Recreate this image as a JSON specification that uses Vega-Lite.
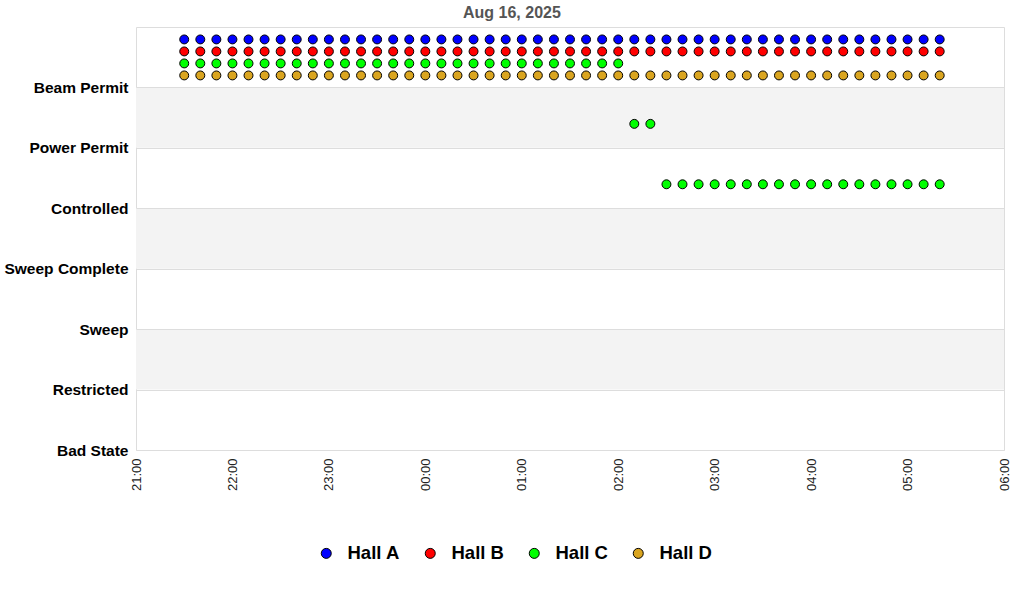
{
  "$schema": "https://vega.github.io/schema/vega-lite/v6.json",
  "autosize": "none",
  "width": 868,
  "height": 423,
  "padding": {"left": 136, "top": 27, "right": 20, "bottom": 150},
  "background": "white",
  "config": {
    "font": "Liberation Sans",
    "view": {"stroke": "#dddddd", "strokeWidth": 1}
  },
  "title": {
    "text": "Aug 16, 2025",
    "font": "Liberation Sans",
    "fontSize": 16,
    "fontWeight": "bold",
    "color": "#555555",
    "anchor": "start",
    "frame": "group",
    "dx": 327,
    "offset": 6
  },
  "datasets": {
    "bands": [
      {"lo": 1, "hi": 2},
      {"lo": 3, "hi": 4},
      {"lo": 5, "hi": 6}
    ],
    "levels": [
      {"state": "Bad State", "level": 0},
      {"state": "Restricted", "level": 1},
      {"state": "Sweep", "level": 2},
      {"state": "Sweep Complete", "level": 3},
      {"state": "Controlled", "level": 4},
      {"state": "Power Permit", "level": 5},
      {"state": "Beam Permit", "level": 6}
    ],
    "status": [
      {"t": "2025-08-16T21:30Z", "Hall A": "Beam Permit", "Hall B": "Beam Permit", "Hall C": "Beam Permit", "Hall D": "Beam Permit"},
      {"t": "2025-08-16T21:40Z", "Hall A": "Beam Permit", "Hall B": "Beam Permit", "Hall C": "Beam Permit", "Hall D": "Beam Permit"},
      {"t": "2025-08-16T21:50Z", "Hall A": "Beam Permit", "Hall B": "Beam Permit", "Hall C": "Beam Permit", "Hall D": "Beam Permit"},
      {"t": "2025-08-16T22:00Z", "Hall A": "Beam Permit", "Hall B": "Beam Permit", "Hall C": "Beam Permit", "Hall D": "Beam Permit"},
      {"t": "2025-08-16T22:10Z", "Hall A": "Beam Permit", "Hall B": "Beam Permit", "Hall C": "Beam Permit", "Hall D": "Beam Permit"},
      {"t": "2025-08-16T22:20Z", "Hall A": "Beam Permit", "Hall B": "Beam Permit", "Hall C": "Beam Permit", "Hall D": "Beam Permit"},
      {"t": "2025-08-16T22:30Z", "Hall A": "Beam Permit", "Hall B": "Beam Permit", "Hall C": "Beam Permit", "Hall D": "Beam Permit"},
      {"t": "2025-08-16T22:40Z", "Hall A": "Beam Permit", "Hall B": "Beam Permit", "Hall C": "Beam Permit", "Hall D": "Beam Permit"},
      {"t": "2025-08-16T22:50Z", "Hall A": "Beam Permit", "Hall B": "Beam Permit", "Hall C": "Beam Permit", "Hall D": "Beam Permit"},
      {"t": "2025-08-16T23:00Z", "Hall A": "Beam Permit", "Hall B": "Beam Permit", "Hall C": "Beam Permit", "Hall D": "Beam Permit"},
      {"t": "2025-08-16T23:10Z", "Hall A": "Beam Permit", "Hall B": "Beam Permit", "Hall C": "Beam Permit", "Hall D": "Beam Permit"},
      {"t": "2025-08-16T23:20Z", "Hall A": "Beam Permit", "Hall B": "Beam Permit", "Hall C": "Beam Permit", "Hall D": "Beam Permit"},
      {"t": "2025-08-16T23:30Z", "Hall A": "Beam Permit", "Hall B": "Beam Permit", "Hall C": "Beam Permit", "Hall D": "Beam Permit"},
      {"t": "2025-08-16T23:40Z", "Hall A": "Beam Permit", "Hall B": "Beam Permit", "Hall C": "Beam Permit", "Hall D": "Beam Permit"},
      {"t": "2025-08-16T23:50Z", "Hall A": "Beam Permit", "Hall B": "Beam Permit", "Hall C": "Beam Permit", "Hall D": "Beam Permit"},
      {"t": "2025-08-17T00:00Z", "Hall A": "Beam Permit", "Hall B": "Beam Permit", "Hall C": "Beam Permit", "Hall D": "Beam Permit"},
      {"t": "2025-08-17T00:10Z", "Hall A": "Beam Permit", "Hall B": "Beam Permit", "Hall C": "Beam Permit", "Hall D": "Beam Permit"},
      {"t": "2025-08-17T00:20Z", "Hall A": "Beam Permit", "Hall B": "Beam Permit", "Hall C": "Beam Permit", "Hall D": "Beam Permit"},
      {"t": "2025-08-17T00:30Z", "Hall A": "Beam Permit", "Hall B": "Beam Permit", "Hall C": "Beam Permit", "Hall D": "Beam Permit"},
      {"t": "2025-08-17T00:40Z", "Hall A": "Beam Permit", "Hall B": "Beam Permit", "Hall C": "Beam Permit", "Hall D": "Beam Permit"},
      {"t": "2025-08-17T00:50Z", "Hall A": "Beam Permit", "Hall B": "Beam Permit", "Hall C": "Beam Permit", "Hall D": "Beam Permit"},
      {"t": "2025-08-17T01:00Z", "Hall A": "Beam Permit", "Hall B": "Beam Permit", "Hall C": "Beam Permit", "Hall D": "Beam Permit"},
      {"t": "2025-08-17T01:10Z", "Hall A": "Beam Permit", "Hall B": "Beam Permit", "Hall C": "Beam Permit", "Hall D": "Beam Permit"},
      {"t": "2025-08-17T01:20Z", "Hall A": "Beam Permit", "Hall B": "Beam Permit", "Hall C": "Beam Permit", "Hall D": "Beam Permit"},
      {"t": "2025-08-17T01:30Z", "Hall A": "Beam Permit", "Hall B": "Beam Permit", "Hall C": "Beam Permit", "Hall D": "Beam Permit"},
      {"t": "2025-08-17T01:40Z", "Hall A": "Beam Permit", "Hall B": "Beam Permit", "Hall C": "Beam Permit", "Hall D": "Beam Permit"},
      {"t": "2025-08-17T01:50Z", "Hall A": "Beam Permit", "Hall B": "Beam Permit", "Hall C": "Beam Permit", "Hall D": "Beam Permit"},
      {"t": "2025-08-17T02:00Z", "Hall A": "Beam Permit", "Hall B": "Beam Permit", "Hall C": "Beam Permit", "Hall D": "Beam Permit"},
      {"t": "2025-08-17T02:10Z", "Hall A": "Beam Permit", "Hall B": "Beam Permit", "Hall C": "Power Permit", "Hall D": "Beam Permit"},
      {"t": "2025-08-17T02:20Z", "Hall A": "Beam Permit", "Hall B": "Beam Permit", "Hall C": "Power Permit", "Hall D": "Beam Permit"},
      {"t": "2025-08-17T02:30Z", "Hall A": "Beam Permit", "Hall B": "Beam Permit", "Hall C": "Controlled", "Hall D": "Beam Permit"},
      {"t": "2025-08-17T02:40Z", "Hall A": "Beam Permit", "Hall B": "Beam Permit", "Hall C": "Controlled", "Hall D": "Beam Permit"},
      {"t": "2025-08-17T02:50Z", "Hall A": "Beam Permit", "Hall B": "Beam Permit", "Hall C": "Controlled", "Hall D": "Beam Permit"},
      {"t": "2025-08-17T03:00Z", "Hall A": "Beam Permit", "Hall B": "Beam Permit", "Hall C": "Controlled", "Hall D": "Beam Permit"},
      {"t": "2025-08-17T03:10Z", "Hall A": "Beam Permit", "Hall B": "Beam Permit", "Hall C": "Controlled", "Hall D": "Beam Permit"},
      {"t": "2025-08-17T03:20Z", "Hall A": "Beam Permit", "Hall B": "Beam Permit", "Hall C": "Controlled", "Hall D": "Beam Permit"},
      {"t": "2025-08-17T03:30Z", "Hall A": "Beam Permit", "Hall B": "Beam Permit", "Hall C": "Controlled", "Hall D": "Beam Permit"},
      {"t": "2025-08-17T03:40Z", "Hall A": "Beam Permit", "Hall B": "Beam Permit", "Hall C": "Controlled", "Hall D": "Beam Permit"},
      {"t": "2025-08-17T03:50Z", "Hall A": "Beam Permit", "Hall B": "Beam Permit", "Hall C": "Controlled", "Hall D": "Beam Permit"},
      {"t": "2025-08-17T04:00Z", "Hall A": "Beam Permit", "Hall B": "Beam Permit", "Hall C": "Controlled", "Hall D": "Beam Permit"},
      {"t": "2025-08-17T04:10Z", "Hall A": "Beam Permit", "Hall B": "Beam Permit", "Hall C": "Controlled", "Hall D": "Beam Permit"},
      {"t": "2025-08-17T04:20Z", "Hall A": "Beam Permit", "Hall B": "Beam Permit", "Hall C": "Controlled", "Hall D": "Beam Permit"},
      {"t": "2025-08-17T04:30Z", "Hall A": "Beam Permit", "Hall B": "Beam Permit", "Hall C": "Controlled", "Hall D": "Beam Permit"},
      {"t": "2025-08-17T04:40Z", "Hall A": "Beam Permit", "Hall B": "Beam Permit", "Hall C": "Controlled", "Hall D": "Beam Permit"},
      {"t": "2025-08-17T04:50Z", "Hall A": "Beam Permit", "Hall B": "Beam Permit", "Hall C": "Controlled", "Hall D": "Beam Permit"},
      {"t": "2025-08-17T05:00Z", "Hall A": "Beam Permit", "Hall B": "Beam Permit", "Hall C": "Controlled", "Hall D": "Beam Permit"},
      {"t": "2025-08-17T05:10Z", "Hall A": "Beam Permit", "Hall B": "Beam Permit", "Hall C": "Controlled", "Hall D": "Beam Permit"},
      {"t": "2025-08-17T05:20Z", "Hall A": "Beam Permit", "Hall B": "Beam Permit", "Hall C": "Controlled", "Hall D": "Beam Permit"}
    ]
  },
  "encoding": {
    "x": {
      "field": "t",
      "type": "temporal",
      "scale": {"type": "utc", "domain": [1755378000000, 1755410400000], "nice": false},
      "axis": {
        "title": null,
        "format": "%H:%M",
        "tickCount": 9,
        "labelAngle": -90,
        "labelAlign": "right",
        "labelBaseline": "middle",
        "labelFontSize": 13,
        "labelColor": "#222222",
        "labelPadding": 8,
        "labelFlush": false,
        "labelOverlap": false,
        "ticks": false,
        "domain": false,
        "grid": false
      }
    },
    "y": {
      "field": "level",
      "type": "quantitative",
      "scale": {"domain": [0, 7], "nice": false, "zero": false},
      "axis": {
        "title": null,
        "values": [0, 1, 2, 3, 4, 5, 6],
        "labelExpr": "['Bad State','Restricted','Sweep','Sweep Complete','Controlled','Power Permit','Beam Permit'][datum.value]",
        "labelFontSize": 15.5,
        "labelFontWeight": "bold",
        "labelColor": "black",
        "labelPadding": 8,
        "ticks": false,
        "domain": false,
        "grid": true,
        "gridColor": "#dddddd",
        "gridWidth": 1,
        "zindex": 1
      }
    },
    "color": {
      "field": "hall",
      "type": "nominal",
      "scale": {"domain": ["Hall A", "Hall B", "Hall C", "Hall D"], "range": ["#0000ff", "#ff0000", "#00ff00", "#daa520"]},
      "legend": {
        "title": null,
        "orient": "none",
        "direction": "horizontal",
        "legendX": 181,
        "legendY": 517,
        "labelFontSize": 18.5,
        "labelFontWeight": "bold",
        "labelColor": "black",
        "labelOffset": 12,
        "columnPadding": 21,
        "symbolSize": 100,
        "symbolStrokeColor": "black",
        "symbolStrokeWidth": 1,
        "symbolType": "circle"
      }
    }
  },
  "layer": [
    {
      "data": {"name": "bands"},
      "mark": {"type": "rect", "fill": "#f3f3f3"},
      "encoding": {
        "x": null,
        "color": null,
        "y": {"field": "lo", "type": "quantitative"},
        "y2": {"field": "hi"}
      }
    },
    {
      "data": {"name": "status"},
      "transform": [
        {"fold": ["Hall A", "Hall B", "Hall C", "Hall D"], "as": ["hall", "state"]},
        {"lookup": "state", "from": {"data": {"name": "levels"}, "key": "state", "fields": ["level"]}},
        {"filter": "datum.hall === 'Hall A'"}
      ],
      "mark": {"type": "point", "shape": "circle", "filled": true, "stroke": "black", "strokeWidth": 1, "size": 80, "opacity": 1, "yOffset": -48}
    },
    {
      "data": {"name": "status"},
      "transform": [
        {"fold": ["Hall A", "Hall B", "Hall C", "Hall D"], "as": ["hall", "state"]},
        {"lookup": "state", "from": {"data": {"name": "levels"}, "key": "state", "fields": ["level"]}},
        {"filter": "datum.hall === 'Hall B'"}
      ],
      "mark": {"type": "point", "shape": "circle", "filled": true, "stroke": "black", "strokeWidth": 1, "size": 80, "opacity": 1, "yOffset": -36}
    },
    {
      "data": {"name": "status"},
      "transform": [
        {"fold": ["Hall A", "Hall B", "Hall C", "Hall D"], "as": ["hall", "state"]},
        {"lookup": "state", "from": {"data": {"name": "levels"}, "key": "state", "fields": ["level"]}},
        {"filter": "datum.hall === 'Hall C'"}
      ],
      "mark": {"type": "point", "shape": "circle", "filled": true, "stroke": "black", "strokeWidth": 1, "size": 80, "opacity": 1, "yOffset": -24}
    },
    {
      "data": {"name": "status"},
      "transform": [
        {"fold": ["Hall A", "Hall B", "Hall C", "Hall D"], "as": ["hall", "state"]},
        {"lookup": "state", "from": {"data": {"name": "levels"}, "key": "state", "fields": ["level"]}},
        {"filter": "datum.hall === 'Hall D'"}
      ],
      "mark": {"type": "point", "shape": "circle", "filled": true, "stroke": "black", "strokeWidth": 1, "size": 80, "opacity": 1, "yOffset": -12}
    }
  ]
}
